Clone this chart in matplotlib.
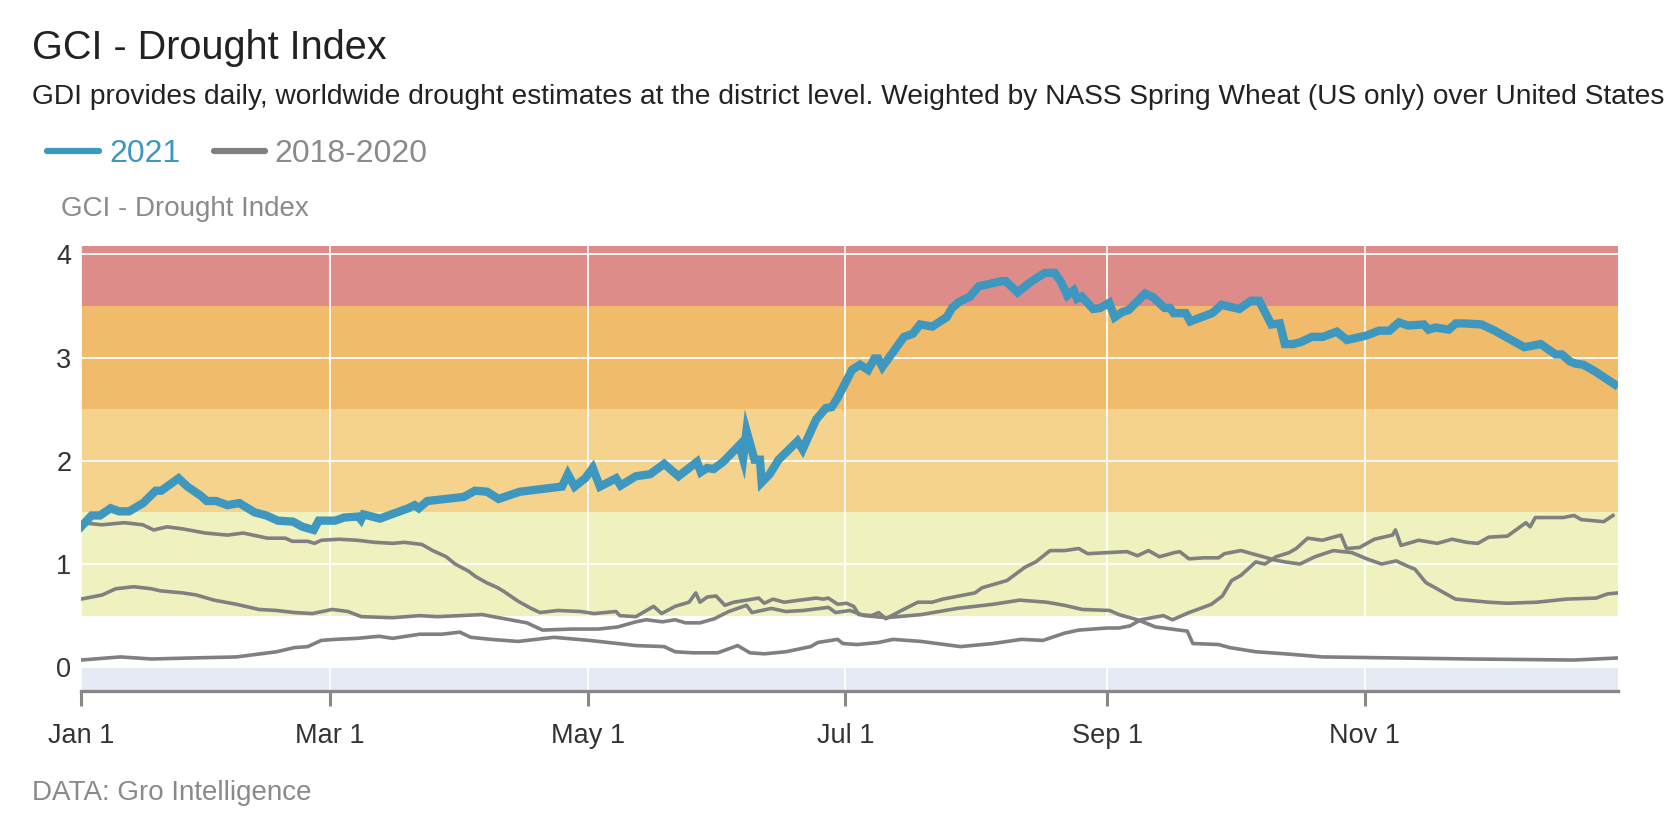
import matplotlib
matplotlib.use("Agg")
import matplotlib.pyplot as plt
from matplotlib.lines import Line2D
import numpy as np

plt.rcParams['font.family'] = ['Liberation Sans', 'DejaVu Sans']

# Datos: dia del año (0 = 1 de enero) y valor del indice
dias_2021 = [0, 2.5, 4.5, 7, 9, 11.4, 14.7, 17.7, 19, 23.1, 25.2, 28.4, 29.8, 32, 34.7, 37.5, 41.1, 43.9,
             46.6, 50.2, 52.5, 55.1, 56.3, 60.2, 62.3, 65.7, 66.3, 66.9, 70.8, 77.5, 79, 80, 82, 90.7, 93.3,
             96.2, 98.9, 103.9, 109.8, 113.9, 115.3, 116.9, 119.4, 121.2, 122.9, 126.7, 127.8, 131.4, 134.8,
             138.1, 141.5, 145.9, 146.8, 148.3, 149.8, 152.1, 155.9, 156.8, 157.6, 159.5, 160.8, 161.2, 163.1,
             165.2, 169.7, 170.9, 174.1, 176.4, 177.8, 179.2, 182.6, 184.5, 186.4, 187.9, 188.8, 189.8, 194.9,
             197.0, 198.7, 201.6, 205.0, 206.3, 208, 210.5, 212.6, 218.1, 219, 221.8, 224.5, 226.3, 228.3,
             230.6, 232.1, 233.6, 235.1, 235.9, 237, 239.7, 241.4, 243.5, 244.8, 246.6, 248.1, 252, 254,
             256.6, 257.9, 258.8, 261.6, 262.7, 267.9, 270.1, 274.3, 277.1, 279, 281.9, 283.9, 285.1, 287.1,
             288.9, 291.5, 294.1, 297.4, 299.8, 304.2, 307.4, 309.9, 312.1, 314.3, 318, 319.1, 320.8, 323.9,
             325.6, 327.8, 331.7, 334.8, 338.3, 341.8, 345.7, 349.2, 350.7, 352.7, 354, 355.8, 358.4, 363.2]
valores_2021 = [1.36, 1.47, 1.47, 1.54, 1.51, 1.51, 1.59, 1.71, 1.71, 1.83, 1.75, 1.66, 1.61, 1.61, 1.57, 1.59,
                1.50, 1.47, 1.42, 1.41, 1.36, 1.33, 1.42, 1.42, 1.45, 1.46, 1.43, 1.48, 1.44, 1.54, 1.57, 1.54,
                1.61, 1.65, 1.71, 1.70, 1.63, 1.70, 1.73, 1.75, 1.87, 1.75, 1.83, 1.93, 1.75, 1.83, 1.76, 1.85,
                1.87, 1.97, 1.85, 1.99, 1.89, 1.93, 1.92, 1.99, 2.15, 2.02, 2.29, 2.01, 2.01, 1.79, 1.87, 2.01,
                2.19, 2.11, 2.40, 2.51, 2.52, 2.61, 2.88, 2.93, 2.88, 2.99, 2.99, 2.91, 3.20, 3.23, 3.32, 3.30,
                3.39, 3.48, 3.54, 3.59, 3.69, 3.74, 3.74, 3.63, 3.72, 3.77, 3.82, 3.82, 3.73, 3.60, 3.65, 3.57,
                3.59, 3.47, 3.48, 3.53, 3.39, 3.44, 3.46, 3.62, 3.58, 3.48, 3.48, 3.43, 3.43, 3.35, 3.43, 3.51,
                3.47, 3.55, 3.55, 3.32, 3.33, 3.13, 3.13, 3.15, 3.20, 3.20, 3.25, 3.17, 3.21, 3.26, 3.26, 3.34,
                3.31, 3.32, 3.27, 3.29, 3.27, 3.33, 3.33, 3.32, 3.26, 3.18, 3.10, 3.13, 3.03, 3.03, 2.96, 2.94,
                2.93, 2.87, 2.74]

dias_a = [0, 5, 10.3, 14.6, 17.2, 20.4, 24.1, 29.4, 34.7, 38.4, 44.2, 48.4, 50, 53.7, 55.3, 56.9, 61.1, 65.4,
          69.6, 73.8, 76.5, 80.7, 83.3, 86.5, 88.6, 91.8, 93.4, 96, 98.7, 100.3, 103.5, 106.6, 108.7, 113,
          118.3, 121.5, 126.7, 127.6, 131.4, 135.6, 137.5, 140.7, 144, 145.6, 146.6, 148.3, 150.4, 152.5,
          154.6, 157.6, 160.5, 161.8, 163.9, 166.5, 170.3, 174.1, 175.8, 177, 179.2, 181.3, 183, 184.2, 187.2,
          188.9, 190.6, 194.8, 198.2, 201.6, 204.1, 211.7, 213.4, 219.3, 223.6, 226.1, 229.5, 232.9, 236.3,
          238.4, 243, 247.7, 250.2, 252.8, 255.4, 258.9, 260.2, 262.4, 265.9, 269.4, 270.8, 274.7, 277.3, 280,
          282.6, 285.2, 288.7, 292.2, 296.6, 301, 304.5, 308, 311.5, 314.1, 315.9, 318.5, 322, 325.5, 333.4,
          337.8, 344.8, 351.8, 358.8, 361.5, 364]
valores_a = [1.40, 1.38, 1.40, 1.38, 1.33, 1.36, 1.34, 1.30, 1.28, 1.30, 1.25, 1.25, 1.22, 1.22, 1.20, 1.23,
             1.24, 1.23, 1.21, 1.20, 1.21, 1.19, 1.13, 1.07, 1.00, 0.93, 0.88, 0.82, 0.77, 0.73, 0.64, 0.57,
             0.53, 0.55, 0.54, 0.52, 0.54, 0.50, 0.49, 0.59, 0.52, 0.59, 0.63, 0.72, 0.63, 0.68, 0.69, 0.60,
             0.63, 0.65, 0.67, 0.62, 0.66, 0.63, 0.65, 0.67, 0.66, 0.67, 0.61, 0.62, 0.59, 0.51, 0.50, 0.53,
             0.47, 0.56, 0.63, 0.63, 0.66, 0.72, 0.77, 0.84, 0.97, 1.02, 1.13, 1.13, 1.15, 1.10, 1.11, 1.12,
             1.08, 1.13, 1.07, 1.11, 1.12, 1.05, 1.06, 1.06, 1.10, 1.13, 1.10, 1.07, 1.04, 1.02, 1.00, 1.07,
             1.13, 1.11, 1.05, 1.00, 1.03, 0.98, 0.95, 0.82, 0.74, 0.66, 0.63, 0.62, 0.63, 0.66, 0.67, 0.71, 0.72]

dias_b = [0, 5, 8.2, 12.5, 16.7, 18.8, 24.1, 27.3, 31.5, 36.8, 42.1, 46.3, 50.5, 54.8, 59.5, 63.2, 66.4, 73.8,
          80.2, 84.4, 95, 100.3, 105.6, 109.3, 116.2, 122.5, 127.1, 131.4, 133.9, 137.7, 140.7, 143.2, 146.6,
          150, 153.4, 157.6, 158.9, 163.5, 166.9, 171.1, 177, 178.7, 182.1, 185.5, 190.6, 199, 207.5, 216,
          222.3, 228.7, 232.9, 237.1, 243.6, 245.8, 250.2, 254.5, 262, 263.3, 269.4, 272.1, 278.2, 285.2, 294,
          311.5, 329, 353.6, 364]
valores_b = [0.66, 0.70, 0.76, 0.78, 0.76, 0.74, 0.72, 0.70, 0.65, 0.61, 0.56, 0.55, 0.53, 0.52, 0.56, 0.54,
             0.49, 0.48, 0.50, 0.49, 0.51, 0.47, 0.43, 0.36, 0.37, 0.37, 0.39, 0.44, 0.46, 0.44, 0.46, 0.43,
             0.43, 0.47, 0.54, 0.60, 0.53, 0.57, 0.54, 0.55, 0.58, 0.53, 0.55, 0.50, 0.48, 0.51, 0.57, 0.61,
             0.65, 0.63, 0.60, 0.56, 0.55, 0.51, 0.46, 0.39, 0.35, 0.23, 0.22, 0.19, 0.15, 0.13, 0.10, 0.09,
             0.08, 0.07, 0.09]

dias_c = [0, 9.3, 16.7, 26.2, 36.8, 46.3, 50.5, 53.7, 56.9, 60.1, 65.4, 70.6, 73.8, 80.2, 85.5, 89.7, 92.3,
          97.1, 103.5, 112, 120.4, 127.1, 131.4, 138.1, 140.7, 144.9, 150.8, 155.5, 158.4, 161.8, 166.9, 172.8,
          174.5, 179.2, 180.4, 183.8, 188.9, 192.3, 199, 208.3, 216, 222.7, 227.8, 232.9, 236.3, 243, 245.8,
          248.4, 251, 256.3, 258.5, 262.4, 265.1, 267.7, 270.3, 272.5, 274.7, 278.2, 280.4, 283, 286.1, 287.8,
          290.5, 294, 298.4, 299.7, 302.8, 306.3, 310.6, 311.3, 312.6, 316.8, 321.2, 324.7, 328.2, 330.8,
          333.4, 337.8, 342.2, 343.2, 344.4, 351, 353.6, 355.3, 360.6, 362.8]
valores_c = [0.07, 0.10, 0.08, 0.09, 0.10, 0.15, 0.19, 0.20, 0.26, 0.27, 0.28, 0.30, 0.28, 0.32, 0.32, 0.34,
             0.29, 0.27, 0.25, 0.29, 0.26, 0.23, 0.21, 0.20, 0.15, 0.14, 0.14, 0.21, 0.14, 0.13, 0.15, 0.20,
             0.24, 0.27, 0.23, 0.22, 0.24, 0.27, 0.25, 0.20, 0.23, 0.27, 0.26, 0.33, 0.36, 0.38, 0.38, 0.40,
             0.46, 0.50, 0.46, 0.53, 0.57, 0.61, 0.69, 0.84, 0.89, 1.02, 1.00, 1.07, 1.11, 1.15, 1.25, 1.23,
             1.28, 1.15, 1.16, 1.24, 1.28, 1.33, 1.18, 1.23, 1.20, 1.24, 1.21, 1.20, 1.26, 1.27, 1.40, 1.36,
             1.45, 1.45, 1.47, 1.43, 1.41, 1.47]

# Bandas de severidad
limites_bandas = [-0.23, 0, 0.5, 1.5, 2.5, 3.5, 4.08]
colores_bandas = ['#e4ebf5', '#ffffff', '#eff2bf', '#f6d38d', '#f0bb6b', '#de8c89']

dias_ticks = [0, 59, 120, 181, 243, 304]
etiquetas_ticks = ['Jan 1', 'Mar 1', 'May 1', 'Jul 1', 'Sep 1', 'Nov 1']

azul = '#3d97bf'
gris = '#808080'

W, H = 1680, 834
fig = plt.figure(figsize=(W / 100, H / 100), dpi=100)
ax = fig.add_axes([81 / W, 1 - 691 / H, 1537 / W, 445 / H])

for i in range(len(colores_bandas)):
    ax.axhspan(limites_bandas[i], limites_bandas[i + 1], color=colores_bandas[i], lw=0, zorder=0)

for d, v in [(dias_a, valores_a), (dias_b, valores_b), (dias_c, valores_c)]:
    ax.plot(d, v, color=gris, lw=2.6, zorder=3, solid_joinstyle='round')
ax.plot(dias_2021, valores_2021, color=azul, lw=6, zorder=4, solid_joinstyle='miter')

ax.set_xlim(0, 364)
ax.set_ylim(limites_bandas[0], limites_bandas[-1])
ax.set_xticks(dias_ticks)
ax.set_xticklabels(etiquetas_ticks)
ax.set_yticks([0, 1, 2, 3, 4])
ax.set_axisbelow('line')
ax.grid(True, color='white', lw=1.3, zorder=1)

for s in ['left', 'top', 'right']:
    ax.spines[s].set_visible(False)
ax.spines['bottom'].set_color('#888888')
ax.spines['bottom'].set_linewidth(2.4)
ax.spines['bottom'].set_zorder(5)
ax.tick_params(axis='x', length=11, width=2.2, color='#888888', labelsize=19.5, labelcolor='#333333', pad=12)
ax.tick_params(axis='y', length=0, labelsize=19.5, labelcolor='#333333', pad=7)

# Textos
fig.text(32 / W, 1 - 59 / H, 'GCI - Drought Index', fontsize=28.5, color='#222222', va='baseline')
fig.text(32 / W, 1 - 104 / H,
         'GDI provides daily, worldwide drought estimates at the district level. '
         'Weighted by NASS Spring Wheat (US only) over United States',
         fontsize=20.25, color='#222222', va='baseline')
fig.add_artist(Line2D([47 / W, 99 / W], [1 - 151 / H] * 2, color=azul, lw=4.5, solid_capstyle='round'))
fig.text(109 / W, 1 - 151 / H, '2021', fontsize=23, color=azul, va='center_baseline')
fig.add_artist(Line2D([214 / W, 265 / W], [1 - 151 / H] * 2, color=gris, lw=4.5, solid_capstyle='round'))
fig.text(274 / W, 1 - 151 / H, '2018-2020', fontsize=23, color='#8a8a8a', va='center_baseline')
fig.text(61 / W, 1 - 206 / H, 'GCI - Drought Index', fontsize=20, color='#8a8a8a', va='center_baseline')
fig.text(32 / W, 1 - 790 / H, 'DATA: Gro Intelligence', fontsize=20, color='#8a8a8a', va='center_baseline')

fig.savefig('out.png', dpi=100)
